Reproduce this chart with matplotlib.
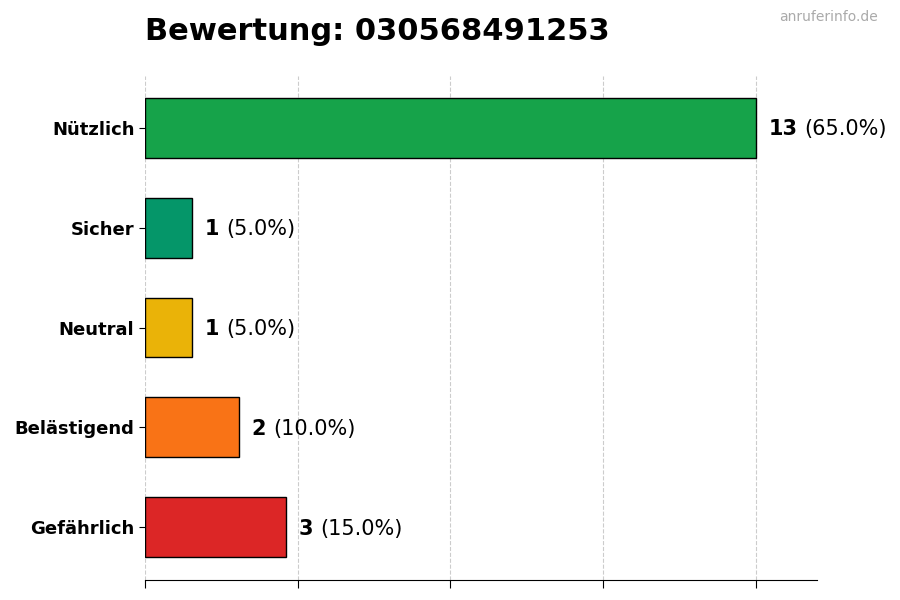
import matplotlib
matplotlib.use("Agg")
import matplotlib.pyplot as plt
from matplotlib.offsetbox import TextArea, HPacker, AnnotationBbox

categories = ["Gefährlich", "Belästigend", "Neutral", "Sicher", "Nützlich"]
values = [3, 2, 1, 1, 13]
colors = ["#dc2626", "#f97316", "#eab308", "#059669", "#16a34a"]
title = "Bewertung: 030568491253"
watermark = "anruferinfo.de"

total = sum(values)
fig = plt.figure(figsize=(9, 6), dpi=100)
ax = fig.add_axes([0.161, 0.0333, 0.747, 0.84])

ypos = list(range(len(categories)))
ax.barh(ypos, values, height=0.6, color=colors, edgecolor="black", linewidth=1, zorder=2)
ax.set_yticks(ypos)
ax.set_yticklabels(categories, fontsize=13, fontweight="bold")
vmax = max(values)
ax.set_xlim(0, vmax * 1.1)
ax.set_ylim(-0.53, 4.52)
ax.set_xticks([vmax * i / 4 for i in range(5)])
ax.set_xticklabels([])
ax.grid(axis="x", linestyle="--", color="#cccccc", linewidth=0.8, zorder=3)
for s in ["top", "right", "left"]:
    ax.spines[s].set_visible(False)
ax.tick_params(axis="x", length=6)
ax.tick_params(axis="y", length=4)

for y, v in zip(ypos, values):
    t1 = TextArea(f"{v}", textprops=dict(fontsize=15, fontweight="bold", color="black"))
    t2 = TextArea(f"({v / total * 100:.1f}%)", textprops=dict(fontsize=15, color="black"))
    box = HPacker(children=[t1, t2], align="baseline", pad=0, sep=5)
    ab = AnnotationBbox(box, (v, y), xybox=(9, -1), xycoords="data",
                        boxcoords="offset points", box_alignment=(0, 0.5),
                        frameon=False, annotation_clip=False)
    ax.add_artist(ab)

fig.text(0.161, 0.948, title, fontsize=22, fontweight="bold", ha="left", va="center")
fig.text(0.975, 0.971, watermark, fontsize=10, color="#aaaaaa", ha="right", va="center")

fig.savefig("out.png", dpi=100)
